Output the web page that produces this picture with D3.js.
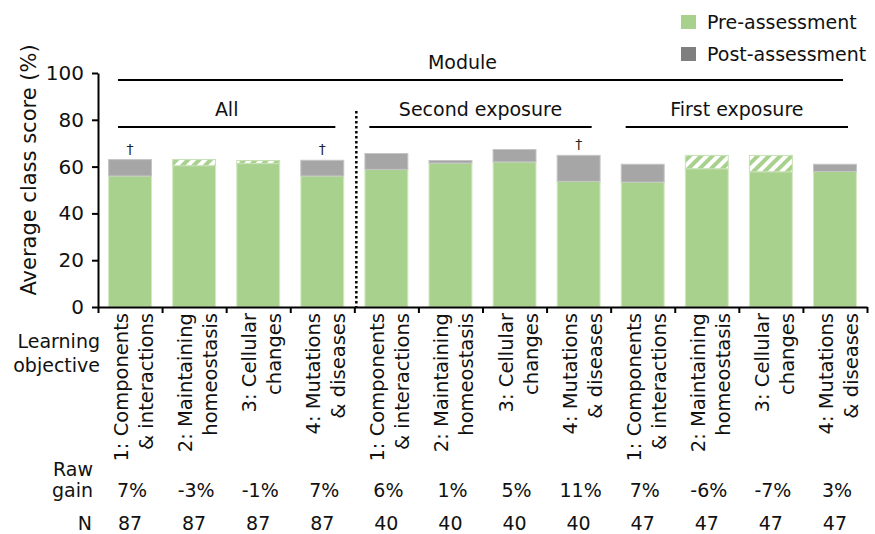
<!DOCTYPE html>
<html>
<head>
<meta charset="utf-8">
<script src="https://cdn.jsdelivr.net/npm/d3@7"></script>
<style>
  body { margin: 0; background: #fff; }
  svg text { font-family: "DejaVu Sans", Verdana, sans-serif; fill: #111; }
</style>
</head>
<body>
<div id="chart"></div>
<script>
// Lernziele (zweizeilig, gedreht)
const labelLine1 = ["1: Components", "2: Maintaining", "3: Cellular", "4: Mutations",
                    "1: Components", "2: Maintaining", "3: Cellular", "4: Mutations",
                    "1: Components", "2: Maintaining", "3: Cellular", "4: Mutations"];
const labelLine2 = ["& interactions", "homeostasis", "changes", "& diseases",
                    "& interactions", "homeostasis", "changes", "& diseases",
                    "& interactions", "homeostasis", "changes", "& diseases"];
const preScore  = [56, 63, 62.6, 56, 58.8, 61.5, 62, 53.7, 53.4, 64.8, 64.8, 57.9];
const postScore = [63, 60.4, 61.3, 62.7, 65.6, 62.6, 67.3, 64.8, 61, 59.1, 57.8, 61];
const rawGain = ["7%", "-3%", "-1%", "7%", "6%", "1%", "5%", "11%", "7%", "-6%", "-7%", "3%"];
const nCount = [87, 87, 87, 87, 40, 40, 40, 40, 47, 47, 47, 47];
const dagger = [true, false, false, true, false, false, false, true, false, false, false, false];
const yTicks = [0, 20, 40, 60, 80, 100];
// Gruppen: [erster Index, letzter Index + 1]
const groups = [
    {name: "All", from: 0, to: 4},
    {name: "Second exposure", from: 4, to: 8},
    {name: "First exposure", from: 8, to: 12}
];

const W = 875, H = 534;
const plotL = 98, plotR = 867, plotT = 73, plotB = 307;
const green = "#a9d18e", gray = "#a6a6a6";

const svg = d3.select("#chart").append("svg")
    .attr("width", W).attr("height", H);

// Schraffur für negative Änderung
const defs = svg.append("defs");
const pat = defs.append("pattern")
    .attr("id", "hatch")
    .attr("patternUnits", "userSpaceOnUse")
    .attr("width", 8).attr("height", 8)
    .attr("patternTransform", "rotate(45)");
pat.append("rect").attr("width", 8).attr("height", 8).attr("fill", green);
pat.append("rect").attr("x", 0).attr("width", 4).attr("height", 8).attr("fill", "#fff");

const idx = d3.range(labelLine1.length);
const x = d3.scaleBand().domain(idx).range([plotL, plotR])
    .paddingInner(0.33).paddingOuter(0.165);
const xb = d3.scaleLinear().domain([0, idx.length]).range([plotL, plotR]); // Kategoriegrenzen
const y = d3.scaleLinear().domain([0, 100]).range([plotB, plotT]);

// Balken
idx.forEach(i => {
    const pre = preScore[i], post = postScore[i];
    const bx = x(i), bw = x.bandwidth();
    const low = Math.min(pre, post), high = Math.max(pre, post);
    svg.append("rect")
        .attr("x", bx).attr("y", y(low))
        .attr("width", bw).attr("height", y(0) - y(low))
        .attr("fill", green)
        .attr("stroke", "#d4e8c6").attr("stroke-width", 1);
    svg.append("rect")
        .attr("x", bx).attr("y", y(high))
        .attr("width", bw).attr("height", y(low) - y(high))
        .attr("fill", post >= pre ? gray : "url(#hatch)")
        .attr("stroke", post >= pre ? "#c4c4c4" : "#c6e0b4").attr("stroke-width", 1);
    if (dagger[i]) {
        svg.append("text")
            .attr("x", bx + bw / 2).attr("y", y(high) - 6)
            .attr("text-anchor", "middle")
            .attr("font-size", 14)
            .style("fill", "#222")
            .text("†");
    }
});

// Achsen
const yAxis = svg.append("g")
    .attr("transform", `translate(${plotL},0)`)
    .call(d3.axisLeft(y).tickValues(yTicks).tickSize(6).tickSizeOuter(0).tickPadding(8));
yAxis.selectAll("text").attr("font-size", 20).attr("font-family", "DejaVu Sans").attr("fill", "#111");

const xAxis = svg.append("g")
    .attr("transform", `translate(0,${plotB})`)
    .call(d3.axisBottom(xb).tickValues(d3.range(idx.length + 1)).tickFormat("").tickSize(6).tickSizeOuter(0));

svg.selectAll(".domain, .tick line").attr("stroke", "#000").attr("stroke-width", 2);

// Achsentitel
svg.append("text")
    .attr("transform", `translate(36,${(plotT + plotB) / 2 - 20}) rotate(-90)`)
    .attr("text-anchor", "middle")
    .attr("font-size", 21)
    .text("Average class score (%)");

// Kategorie-Beschriftungen
idx.forEach(i => {
    const cx = x(i) + x.bandwidth() / 2;
    svg.append("text")
        .attr("transform", `translate(${cx - 2},313) rotate(-90)`)
        .attr("text-anchor", "end")
        .attr("font-size", 19.5)
        .text(labelLine1[i]);
    svg.append("text")
        .attr("transform", `translate(${cx + 23},313) rotate(-90)`)
        .attr("text-anchor", "end")
        .attr("font-size", 19.5)
        .text(labelLine2[i]);
    svg.append("text")
        .attr("x", cx + 2).attr("y", 497)
        .attr("text-anchor", "middle")
        .attr("font-size", 19)
        .text(rawGain[i]);
    svg.append("text")
        .attr("x", cx).attr("y", 530)
        .attr("text-anchor", "middle")
        .attr("font-size", 19)
        .text(nCount[i]);
});

// Zeilenköpfe links
[["Learning", 348, 100], ["objective", 372, 100], ["Raw", 476, 93], ["gain", 497, 93], ["N", 530, 92]]
    .forEach(([t, ty, tx]) => {
        svg.append("text")
            .attr("x", tx).attr("y", ty)
            .attr("text-anchor", "end")
            .attr("font-size", 19)
            .text(t);
    });

// Klammern oben
svg.append("line")
    .attr("x1", xb(0) + 20).attr("x2", xb(12) - 24)
    .attr("y1", 80).attr("y2", 80)
    .attr("stroke", "#000").attr("stroke-width", 2);
svg.append("text")
    .attr("x", (xb(0) + xb(12)) / 2 - 20).attr("y", 69)
    .attr("text-anchor", "middle")
    .attr("font-size", 19)
    .text("Module");

groups.forEach((g, k) => {
    const x1 = xb(g.from) + (k === 0 ? 20 : 15);
    const x2 = xb(g.to) - 19;
    svg.append("line")
        .attr("x1", x1).attr("x2", x2)
        .attr("y1", 127).attr("y2", 127)
        .attr("stroke", "#000").attr("stroke-width", 2);
    svg.append("text")
        .attr("x", (x1 + x2) / 2).attr("y", 116)
        .attr("text-anchor", "middle")
        .attr("font-size", 19)
        .text(g.name);
});

// gestrichelte Trennlinie
svg.append("line")
    .attr("x1", xb(4) + 2).attr("x2", xb(4) + 2)
    .attr("y1", 111).attr("y2", plotB)
    .attr("stroke", "#000").attr("stroke-width", 2.5)
    .attr("stroke-dasharray", "2.5,2.5");

// Legende
const legend = [["Pre-assessment", green], ["Post-assessment", "#7f7f7f"]];
legend.forEach(([t, c], k) => {
    svg.append("rect")
        .attr("x", 681).attr("y", 15 + k * 32)
        .attr("width", 15).attr("height", 14)
        .attr("fill", c);
    svg.append("text")
        .attr("x", 707).attr("y", 29 + k * 32)
        .attr("font-size", 19)
        .text(t);
});
</script>
</body>
</html>
